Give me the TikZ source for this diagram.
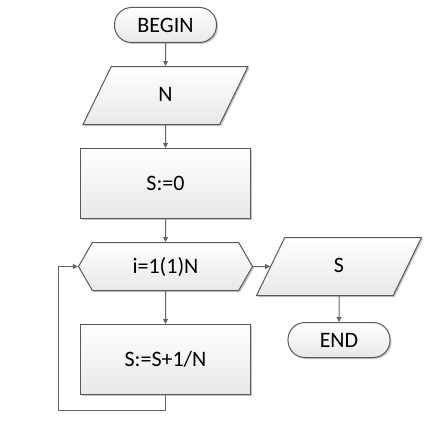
\documentclass[tikz,border=0pt]{standalone}
\usepackage{fontspec}
\setmainfont{Carlito}
\usetikzlibrary{arrows.meta,positioning,shapes.geometric,shapes.symbols,shadows}

\begin{document}
\begin{tikzpicture}[
    x=1pt, y=1pt,
    node distance=23pt,
    font=\fontsize{22}{26}\selectfont,
    base/.style={draw=black!65, line width=1pt, top color=white, bottom color=black!9,
                 general shadow={fill=black!22, shadow xshift=1.5pt, shadow yshift=-1.5pt}},
    term/.style={base, rectangle, rounded corners=17pt, minimum width=102pt, minimum height=35pt},
    io/.style={base, trapezium, trapezium left angle=64, trapezium right angle=116,
               trapezium stretches body, minimum width=165pt,
               text height=16pt, text depth=4pt, inner ysep=19pt},
    proc/.style={base, rectangle, minimum width=170pt, minimum height=70pt},
    loopbox/.style={base, signal, signal to=west and east, signal pointer angle=120,
                    minimum width=174pt, minimum height=48pt},
    flow/.style={-{Triangle[length=5pt, width=5pt]}, draw=black!60, line width=1pt}
]
\useasboundingbox (0,0) rectangle (425,421);
\node[term] (begin) at (165.5,396) {BEGIN};
\node[io, below=of begin] (inN) {N};
\node[proc, below=of inN] (init) {S:=0};
\node[loopbox, below=of init] (loop) {i=1(1)N};
\node[proc, below=33pt of loop] (body) {S:=S+1/N};
\node[io, right=17pt of loop] (outS) {S};
\node[term, below=26pt of outS] (end) {END};
\coordinate (ret) at (58.5,10.5);
\draw[flow] (begin) -- (inN); \draw[flow] (inN) -- (init); \draw[flow] (init) -- (loop);
\draw[flow] (loop) -- (body); \draw[flow] (loop) -- (outS); \draw[flow] (outS) -- (end);
\draw[flow] (body.south) |- (ret) |- (loop.west);
\end{tikzpicture}
\end{document}
